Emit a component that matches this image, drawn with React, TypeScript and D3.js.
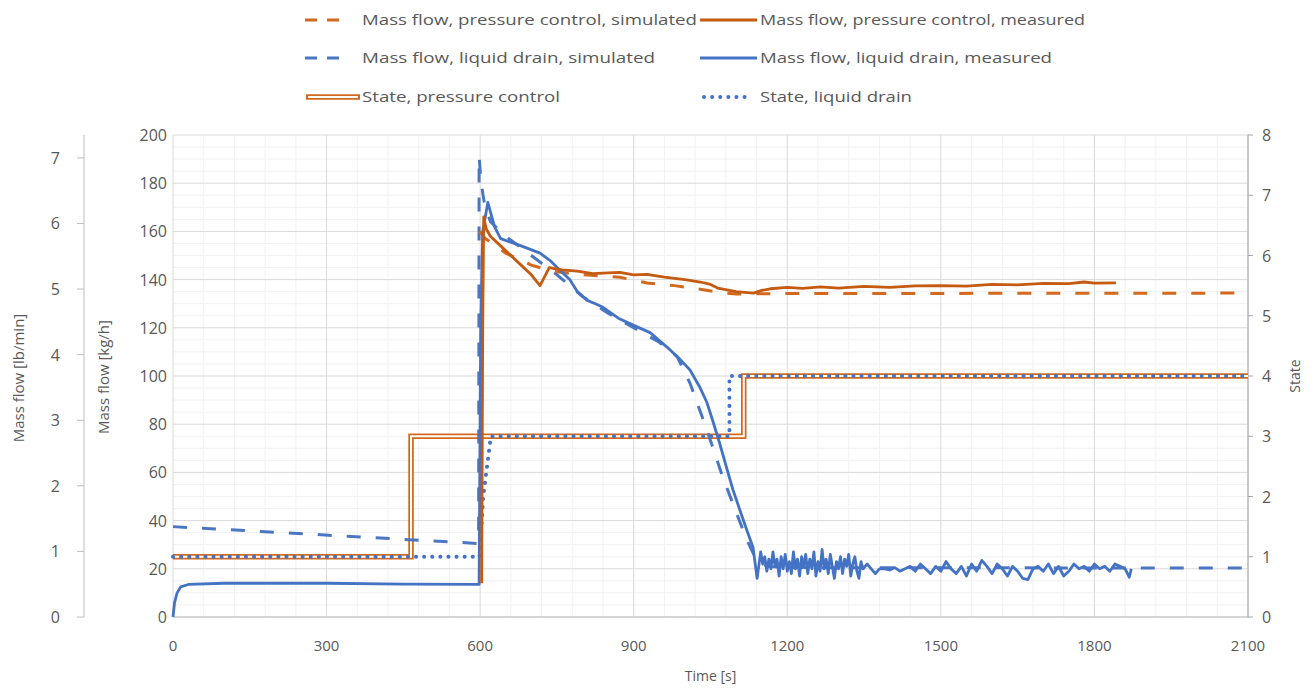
import React from "react";
import * as d3 from "d3";

const W = 1314;
const H = 690;

// ---- data ----
const xTicks = [0, 300, 600, 900, 1200, 1500, 1800, 2100];
const yTicks = [0, 20, 40, 60, 80, 100, 120, 140, 160, 180, 200];
const lbTicks = [0, 1, 2, 3, 4, 5, 6, 7];
const stateTicks = [0, 1, 2, 3, 4, 5, 6, 7, 8];
const KGH_PER_LBMIN = 27.2155;

const pcSimulated: [number, number][] = [
  [599, 160], [610, 157], [625, 155], [650, 151], [680, 148], [700, 146], [740, 143.5],
  [800, 142], [873, 141], [926, 138.6], [980, 137.5], [1030, 136], [1064, 134.8],
  [1100, 134], [1200, 134.2], [1600, 134.3], [2100, 134.4],
];

const pcMeasured: [number, number][] = [
  [603, 14], [605, 120], [607, 166], [612, 161], [620, 158], [640, 154], [660, 150],
  [680, 146], [700, 142], [717, 137.5], [735, 145], [760, 144], [790, 143.5], [820, 142.5],
  [850, 142.8], [873, 143], [900, 142], [926, 142.2], [960, 141], [1000, 140], [1030, 139],
  [1050, 138], [1064, 136.5], [1100, 135], [1134, 134.4], [1150, 135.5], [1167, 136.2],
  [1200, 136.8], [1230, 136.4], [1265, 137], [1300, 136.5], [1350, 137.2], [1400, 136.8],
  [1450, 137.4], [1500, 137.5], [1550, 137.3], [1600, 138], [1650, 137.8], [1700, 138.4],
  [1750, 138.3], [1780, 139], [1800, 138.5], [1842, 138.6],
];

const ldSimulated: [number, number][] = [
  [0, 37.5], [597, 30.5], [598, 191], [602, 180], [608, 172], [620, 164], [650, 158],
  [700, 150], [750, 142], [800, 133], [850, 126], [900, 120], [950, 114], [985, 108],
  [1010, 97], [1043, 77.6], [1074, 58], [1101, 43], [1121, 32], [1140, 23.6], [1160, 21],
  [1200, 20.5], [1600, 20.4], [2100, 20.3],
];

const ldMeasured: [number, number][] = [
  [0, 0], [3, 6], [8, 10], [15, 12.5], [30, 13.5], [100, 14], [300, 14], [450, 13.6],
  [598, 13.5], [601, 120], [605, 160], [615, 172], [628, 162], [640, 157], [680, 154],
  [717, 151], [736, 148], [760, 143], [775, 140], [790, 135], [808, 131.5], [825, 130],
  [840, 128.5], [870, 124], [900, 121], [932, 118], [965, 112], [990, 107], [1010, 102.5],
  [1030, 95], [1043, 89], [1055, 81], [1068, 72], [1080, 63], [1094, 52.7], [1108, 44],
  [1121, 36], [1133, 29], [1141, 16], [1148, 27], [1152, 22], [1156, 25], [1160, 19],
  [1164, 24], [1168, 20], [1172, 27], [1176, 21], [1180, 24], [1184, 17], [1188, 25],
  [1192, 20], [1196, 26], [1200, 19], [1204, 23], [1208, 18], [1212, 27], [1216, 20],
  [1220, 24], [1224, 17], [1228, 25], [1232, 21], [1236, 26], [1240, 18], [1244, 24],
  [1248, 20], [1252, 27], [1256, 17], [1260, 23], [1264, 19], [1268, 28], [1272, 20],
  [1276, 24], [1280, 18], [1284, 26], [1288, 21], [1292, 16], [1296, 23], [1300, 20],
  [1304, 25], [1308, 18], [1312, 24], [1316, 21], [1320, 26], [1324, 17], [1328, 22],
  [1332, 25], [1336, 19], [1340, 16], [1344, 23], [1348, 20], [1356, 22], [1364, 20],
  [1372, 18], [1380, 20], [1390, 20], [1400, 19.5],
  [1410, 20.5], [1420, 19], [1430, 20], [1440, 21], [1450, 19], [1460, 22], [1470, 20],
  [1480, 18], [1490, 21], [1500, 19], [1510, 23], [1520, 20], [1530, 18], [1540, 21],
  [1550, 17], [1560, 22], [1570, 19], [1580, 23.5], [1590, 21], [1600, 18], [1610, 22],
  [1620, 20], [1630, 17], [1640, 21], [1650, 19], [1660, 16], [1670, 15.5], [1680, 20],
  [1690, 21], [1700, 19], [1710, 22], [1720, 18], [1730, 21], [1740, 17], [1750, 19],
  [1760, 22], [1770, 20], [1780, 21], [1790, 19], [1800, 22], [1810, 20], [1820, 21],
  [1830, 19], [1840, 22], [1850, 21], [1860, 20], [1868, 16.5], [1872, 20],
];

const statePC: [number, number][] = [
  [0, 1], [465, 1], [465, 3], [1115, 3], [1115, 4], [2100, 4],
];

const stateLD: [number, number][] = [
  [0, 1], [599, 1], [606, 2], [621, 3], [1087, 3], [1087, 4], [2100, 4],
];

// ---- layout ----
const X0 = 173, X1 = 1248, YT = 135, YB = 617;
const ORANGE = "#C55A11";
const ORANGE_D = "#D2691E";
const BLUE = "#4472C4";
const BLUE_D = "#4B77C2";
const TXT = "#595959";
const FONT = "'Open Sans', 'DejaVu Sans', sans-serif";

export default function App() {
  const x = d3.scaleLinear().domain([0, 2100]).range([X0, X1]);
  const y = d3.scaleLinear().domain([0, 200]).range([YB, YT]);
  const yS = d3.scaleLinear().domain([0, 8]).range([YB, YT]);
  const yLb = d3.scaleLinear().domain([0, 200 / KGH_PER_LBMIN]).range([YB, YT]);

  const flowLine = d3.line<[number, number]>().x((d) => x(d[0])).y((d) => y(d[1]));
  const stateLine = d3.line<[number, number]>().x((d) => x(d[0])).y((d) => yS(d[1]));

  const minorX = d3.range(0, 2101, 60).filter((v) => v % 300 !== 0);
  const minorY = d3.range(0, 201, 5).filter((v) => v % 20 !== 0);

  const legendRows = [20, 58, 97];

  return (
    <svg
      width={W}
      height={H}
      style={{ position: "absolute", left: 0, top: 0, background: "#fff" }}
      fontFamily={FONT}
    >
      <rect x={0} y={0} width={W} height={H} fill="#fff" />
      {/* minor grid */}
      {minorX.map((v) => (
        <line key={"mx" + v} x1={x(v)} x2={x(v)} y1={YT} y2={YB} stroke="#f1f1f1" strokeWidth={1} />
      ))}
      {minorY.map((v) => (
        <line key={"my" + v} x1={X0} x2={X1} y1={y(v)} y2={y(v)} stroke="#f1f1f1" strokeWidth={1} />
      ))}
      {/* major grid */}
      {xTicks.map((v) => (
        <line key={"gx" + v} x1={x(v)} x2={x(v)} y1={YT} y2={YB} stroke="#d9d9d9" strokeWidth={1} />
      ))}
      {yTicks.map((v) => (
        <line key={"gy" + v} x1={X0} x2={X1} y1={y(v)} y2={y(v)} stroke="#d9d9d9" strokeWidth={1} />
      ))}
      <line x1={X0} x2={X1} y1={YB} y2={YB} stroke="#bfbfbf" />
      {/* right axis */}
      <line x1={X1} x2={X1} y1={YT} y2={YB} stroke="#a6a6a6" />
      {stateTicks.map((v) => (
        <g key={"st" + v}>
          <line x1={X1} x2={X1 + 5} y1={yS(v)} y2={yS(v)} stroke="#a6a6a6" />
          <text x={X1 + 14} y={yS(v) + 6} fontSize={16} fill={TXT}>{v}</text>
        </g>
      ))}
      <text
        transform={`translate(1300,376) rotate(-90)`}
        textAnchor="middle"
        fontSize={14}
        fill={TXT}
      >State</text>
      {/* left kg/h axis labels */}
      {yTicks.map((v) => (
        <text key={"yl" + v} x={167} y={y(v) + 6} textAnchor="end" fontSize={16} fill={TXT}>{v}</text>
      ))}
      <text
        transform={`translate(109,377) rotate(-90)`}
        textAnchor="middle"
        fontSize={15}
        fill={TXT}
      >Mass flow [kg/h]</text>
      {/* far left lb/min axis */}
      <line x1={84} x2={84} y1={YT} y2={YB} stroke="#bfbfbf" />
      {lbTicks.map((v) => (
        <g key={"lb" + v}>
          <line x1={77} x2={84} y1={yLb(v)} y2={yLb(v)} stroke="#bfbfbf" />
          <text x={60} y={yLb(v) + 6} textAnchor="end" fontSize={16} fill={TXT}>{v}</text>
        </g>
      ))}
      <text
        transform={`translate(24,378) rotate(-90)`}
        textAnchor="middle"
        fontSize={15}
        fill={TXT}
      >Mass flow [lb/min]</text>
      {/* x axis labels */}
      {xTicks.map((v) => (
        <text key={"xl" + v} x={x(v)} y={651} textAnchor="middle" fontSize={15} fill={TXT}>{v}</text>
      ))}
      <text x={(X0 + X1) / 2} y={681} textAnchor="middle" fontSize={14} fill={TXT}>Time [s]</text>

      {/* series */}
      <path d={stateLine(statePC) || ""} fill="none" stroke={ORANGE_D} strokeWidth={5.5} />
      <path d={stateLine(statePC) || ""} fill="none" stroke="#fff" strokeWidth={2} />
      <path d={stateLine(stateLD) || ""} fill="none" stroke={BLUE} strokeWidth={4} strokeDasharray="0.1 8" strokeLinecap="round" />
      <path d={flowLine(ldSimulated) || ""} fill="none" stroke={BLUE_D} strokeWidth={3} strokeDasharray="14 15" />
      <path d={flowLine(pcSimulated) || ""} fill="none" stroke={ORANGE_D} strokeWidth={3} strokeDasharray="14 15" />
      <path d={flowLine(ldMeasured) || ""} fill="none" stroke={BLUE} strokeWidth={2.8} strokeLinejoin="round" />
      <path d={flowLine(pcMeasured) || ""} fill="none" stroke={ORANGE} strokeWidth={2.8} strokeLinejoin="round" />

      {/* legend */}
      <g>
        <line x1={305} x2={347} y1={legendRows[0]} y2={legendRows[0]} stroke={ORANGE_D} strokeWidth={3} strokeDasharray="12 10" />
        <text x={362} y={legendRows[0] + 5} fontSize={15} fill={TXT} textLength={335} lengthAdjust="spacingAndGlyphs">Mass flow, pressure control, simulated</text>
        <line x1={700} x2={757} y1={legendRows[0]} y2={legendRows[0]} stroke={ORANGE} strokeWidth={3} />
        <text x={760} y={legendRows[0] + 5} fontSize={15} fill={TXT} textLength={325} lengthAdjust="spacingAndGlyphs">Mass flow, pressure control, measured</text>

        <line x1={305} x2={347} y1={legendRows[1]} y2={legendRows[1]} stroke={BLUE_D} strokeWidth={3} strokeDasharray="12 10" />
        <text x={362} y={legendRows[1] + 5} fontSize={15} fill={TXT} textLength={293} lengthAdjust="spacingAndGlyphs">Mass flow, liquid drain, simulated</text>
        <line x1={700} x2={757} y1={legendRows[1]} y2={legendRows[1]} stroke={BLUE} strokeWidth={3} />
        <text x={760} y={legendRows[1] + 5} fontSize={15} fill={TXT} textLength={292} lengthAdjust="spacingAndGlyphs">Mass flow, liquid drain, measured</text>

        <line x1={306} x2={360} y1={legendRows[2]} y2={legendRows[2]} stroke={ORANGE_D} strokeWidth={5.5} />
        <line x1={308} x2={358} y1={legendRows[2]} y2={legendRows[2]} stroke="#fff" strokeWidth={2} />
        <text x={362} y={legendRows[2] + 5} fontSize={15} fill={TXT} textLength={198} lengthAdjust="spacingAndGlyphs">State, pressure control</text>
        <line x1={704} x2={752} y1={legendRows[2]} y2={legendRows[2]} stroke={BLUE} strokeWidth={4} strokeDasharray="0.1 8" strokeLinecap="round" />
        <text x={760} y={legendRows[2] + 5} fontSize={15} fill={TXT} textLength={152} lengthAdjust="spacingAndGlyphs">State, liquid drain</text>
      </g>
    </svg>
  );
}
